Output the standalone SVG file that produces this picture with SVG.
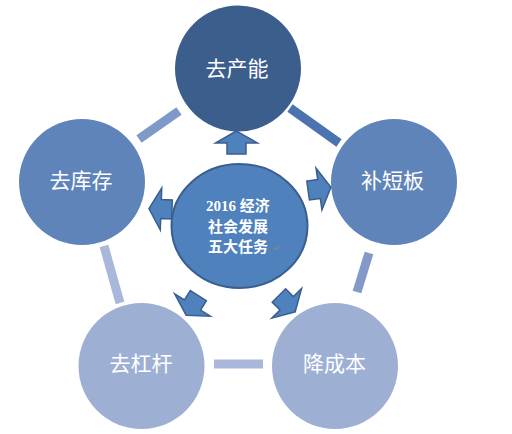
<svg xmlns="http://www.w3.org/2000/svg" xmlns:xlink="http://www.w3.org/1999/xlink" width="512" height="434" viewBox="0 0 512 434">
<style>
.lbl{font-family:"Liberation Serif","Noto Sans CJK SC",serif;font-size:21px;fill:#fff;text-anchor:middle;dominant-baseline:central}
.ctr{font-family:"Liberation Serif","Noto Sans CJK SC",serif;font-size:15px;font-weight:bold;fill:#fff;text-anchor:middle;dominant-baseline:central}
.bar{stroke-width:9;fill:none}
.arr{fill:#4F81BD;stroke:#3A5F8E;stroke-width:1.5;stroke-linejoin:miter}
</style>
<defs>
<path id="arrow" d="M12,0 L0,-21 L0,-9.5 L-11,-9.5 L-11,9.5 L0,9.5 L0,21 Z"/>
</defs>
<rect width="512" height="434" fill="#fff"/>
<g id="connectors">
<line class="bar" x1="179" y1="111" x2="139" y2="139" stroke="#7F99C8"/>
<line class="bar" x1="290" y1="108" x2="339" y2="143" stroke="#4A73B0"/>
<line class="bar" x1="369" y1="253" x2="357" y2="292" stroke="#8499C8"/>
<line class="bar" x1="214" y1="364" x2="263" y2="364" stroke="#A9B8DA" stroke-width="10"/>
<line class="bar" x1="104" y1="246" x2="120" y2="303" stroke="#A9B8DA"/>
</g>
<g id="node-top"><circle cx="238" cy="68.5" r="63" fill="#3B5E8C"/><text class="lbl" x="237" y="69">去产能</text></g>
<g id="node-right"><circle cx="394" cy="182" r="63" fill="#5F84BA"/><text class="lbl" x="392.5" y="181">补短板</text></g>
<g id="node-left"><circle cx="82" cy="182" r="63" fill="#5F84BA"/><text class="lbl" x="81" y="181">去库存</text></g>
<g id="node-bl"><circle cx="141.5" cy="366" r="63" fill="#9DB0D4"/><text class="lbl" x="141" y="364">去杠杆</text></g>
<g id="node-br"><circle cx="335" cy="366" r="63" fill="#9DB0D4"/><text class="lbl" x="334.5" y="364">降成本</text></g>
<g id="arrows">
<use xlink:href="#arrow" class="arr" transform="translate(236.5,143) rotate(-90)"/>
<use xlink:href="#arrow" class="arr" transform="translate(319,189) rotate(-8)"/>
<use xlink:href="#arrow" class="arr" transform="translate(161,209) rotate(182)"/>
<use xlink:href="#arrow" class="arr" transform="translate(192.5,305) rotate(122)"/>
<use xlink:href="#arrow" class="arr" transform="translate(286.7,303.3) rotate(45)"/>
</g>
<g id="node-center">
<ellipse cx="239.5" cy="226" rx="68" ry="62" fill="#4F81BD" stroke="#3A5F8E" stroke-width="2"/>
<text class="ctr" x="238" y="206">2016 经济</text>
<text class="ctr" x="238" y="227">社会发展</text>
<text class="ctr" x="238" y="247">五大任务</text>
<text x="274" y="248" font-family="DejaVu Sans,sans-serif" font-size="8" fill="#8A8A8A" dominant-baseline="central">↵</text>
</g>
</svg>
